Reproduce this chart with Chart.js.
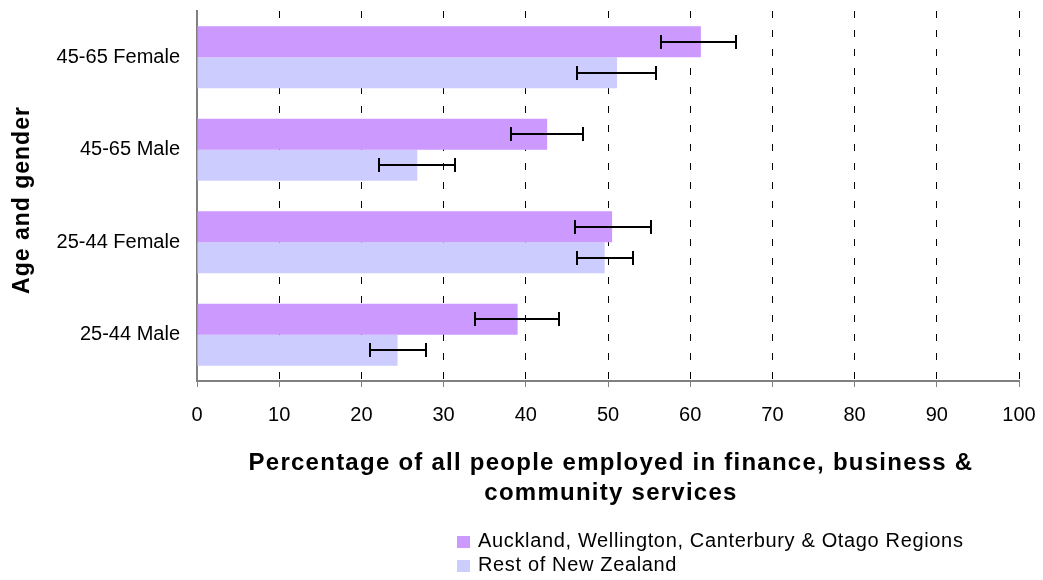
<!DOCTYPE html>
<html><head><meta charset="utf-8">
<script src="https://cdn.jsdelivr.net/npm/chart.js@4.4.0/dist/chart.umd.min.js"></script>
<style>
html,body{margin:0;padding:0;background:#fff;}
#wrap{position:relative;width:1043px;height:580px;}
#legend{position:absolute;left:457px;top:528px;font-family:"Liberation Sans",Arial,sans-serif;font-size:20px;letter-spacing:0.65px;color:#000;line-height:24px;}
#legend div{white-space:nowrap;height:24px;}
#legend .sw{display:inline-block;width:13px;height:12px;margin-right:8px;vertical-align:-1px;}
</style></head>
<body><div id="wrap"><canvas id="c" width="1043" height="580"></canvas>
<div id="legend"></div></div>
<script>
const categories = ["45-65 Female", "45-65 Male", "25-44 Female", "25-44 Male"];
const seriesNames = ["Auckland, Wellington, Canterbury & Otago Regions", "Rest of New Zealand"];
const aucklandValues = [61.3, 42.6, 50.5, 39.0];
const aucklandLow = [56.5, 38.2, 46.0, 33.8];
const aucklandHigh = [65.6, 46.9, 55.2, 44.0];
const restValues = [51.1, 26.8, 49.6, 24.4];
const restLow = [46.2, 22.2, 46.2, 21.0];
const restHigh = [55.9, 31.4, 53.0, 27.8];
const xTicks = [0, 10, 20, 30, 40, 50, 60, 70, 80, 90, 100];
const xTitleLines = ["Percentage of all people employed in finance, business &", "community services"];
const yTitle = "Age and gender";
const colors = ["#CC99FF", "#CCCCFF"];
const errLow = [aucklandLow, restLow];
const errHigh = [aucklandHigh, restHigh];

const FONT = "'Liberation Sans', Arial, sans-serif";

const errorBars = {
  id: 'errorBars',
  afterDatasetsDraw(chart) {
    const ctx = chart.ctx, xs = chart.scales.x;
    ctx.save();
    ctx.strokeStyle = '#000';
    ctx.lineWidth = 2;
    chart.data.datasets.forEach((ds, di) => {
      const meta = chart.getDatasetMeta(di);
      meta.data.forEach((bar, i) => {
        const y = Math.round(bar.y);
        const x1 = Math.round(xs.getPixelForValue(errLow[di][i]));
        const x2 = Math.round(xs.getPixelForValue(errHigh[di][i]));
        ctx.beginPath();
        ctx.moveTo(x1, y); ctx.lineTo(x2, y);
        ctx.moveTo(x1, y - 7); ctx.lineTo(x1, y + 7);
        ctx.moveTo(x2, y - 7); ctx.lineTo(x2, y + 7);
        ctx.stroke();
      });
    });
    ctx.restore();
  }
};

const axisTitles = {
  id: 'axisTitles',
  afterDraw(chart) {
    const ctx = chart.ctx, ca = chart.chartArea;
    ctx.save();
    ctx.fillStyle = '#000';
    ctx.textAlign = 'center';
    ctx.textBaseline = 'middle';
    ctx.font = "bold 24px " + FONT;
    ctx.letterSpacing = '1.25px';
    const cx = (ca.left + ca.right) / 2 + 3;
    xTitleLines.forEach((t, i) => ctx.fillText(t, cx, ca.bottom + 82 + i * 30));
    ctx.font = "bold 23px " + FONT;
    ctx.letterSpacing = '1px';
    ctx.translate(23, (ca.top + ca.bottom) / 2 + 4);
    ctx.rotate(-Math.PI / 2);
    ctx.fillText(yTitle, 0, 0);
    ctx.restore();
  }
};

const chart = new Chart(document.getElementById('c'), {
  type: 'bar',
  data: {
    labels: categories,
    datasets: [
      { label: seriesNames[0], data: aucklandValues, backgroundColor: colors[0] },
      { label: seriesNames[1], data: restValues, backgroundColor: colors[1] }
    ]
  },
  options: {
    indexAxis: 'y',
    responsive: false,
    animation: false,
    devicePixelRatio: 1,
    layout: { padding: { left: 0, right: 24, top: 11, bottom: 0 } },
    datasets: { bar: { categoryPercentage: 0.67, barPercentage: 1.0 } },
    plugins: { legend: { display: false }, tooltip: { enabled: false } },
    scales: {
      x: {
        min: 0, max: 100,
        afterBuildTicks(scale) { scale.ticks = xTicks.map(v => ({ value: v })); },
        afterFit(scale) { scale.height = 199; scale.paddingLeft = 0; scale.paddingRight = 0; },
        border: { display: true, color: '#808080', width: 2, dash: [7, 12] },
        grid: {
          color: '#000', lineWidth: 1,
          drawTicks: true, tickLength: 6, tickColor: '#808080', tickBorderDash: [], tickWidth: 1
        },
        ticks: { color: '#000', font: { family: FONT, size: 20 }, padding: 16, maxRotation: 0 }
      },
      y: {
        afterFit(scale) { scale.width = 197; scale.paddingTop = 0; scale.paddingBottom = 0; },
        border: { display: true, color: '#808080', width: 2 },
        grid: { display: false },
        ticks: { color: '#000', font: { family: FONT, size: 20 }, padding: 9 }
      }
    }
  },
  plugins: [errorBars, axisTitles]
});

const lg = document.getElementById('legend');
seriesNames.forEach((n, i) => {
  const d = document.createElement('div');
  const s = document.createElement('span'); s.className = 'sw'; s.style.background = colors[i];
  d.appendChild(s); d.appendChild(document.createTextNode(n));
  lg.appendChild(d);
});
</script></body></html>
